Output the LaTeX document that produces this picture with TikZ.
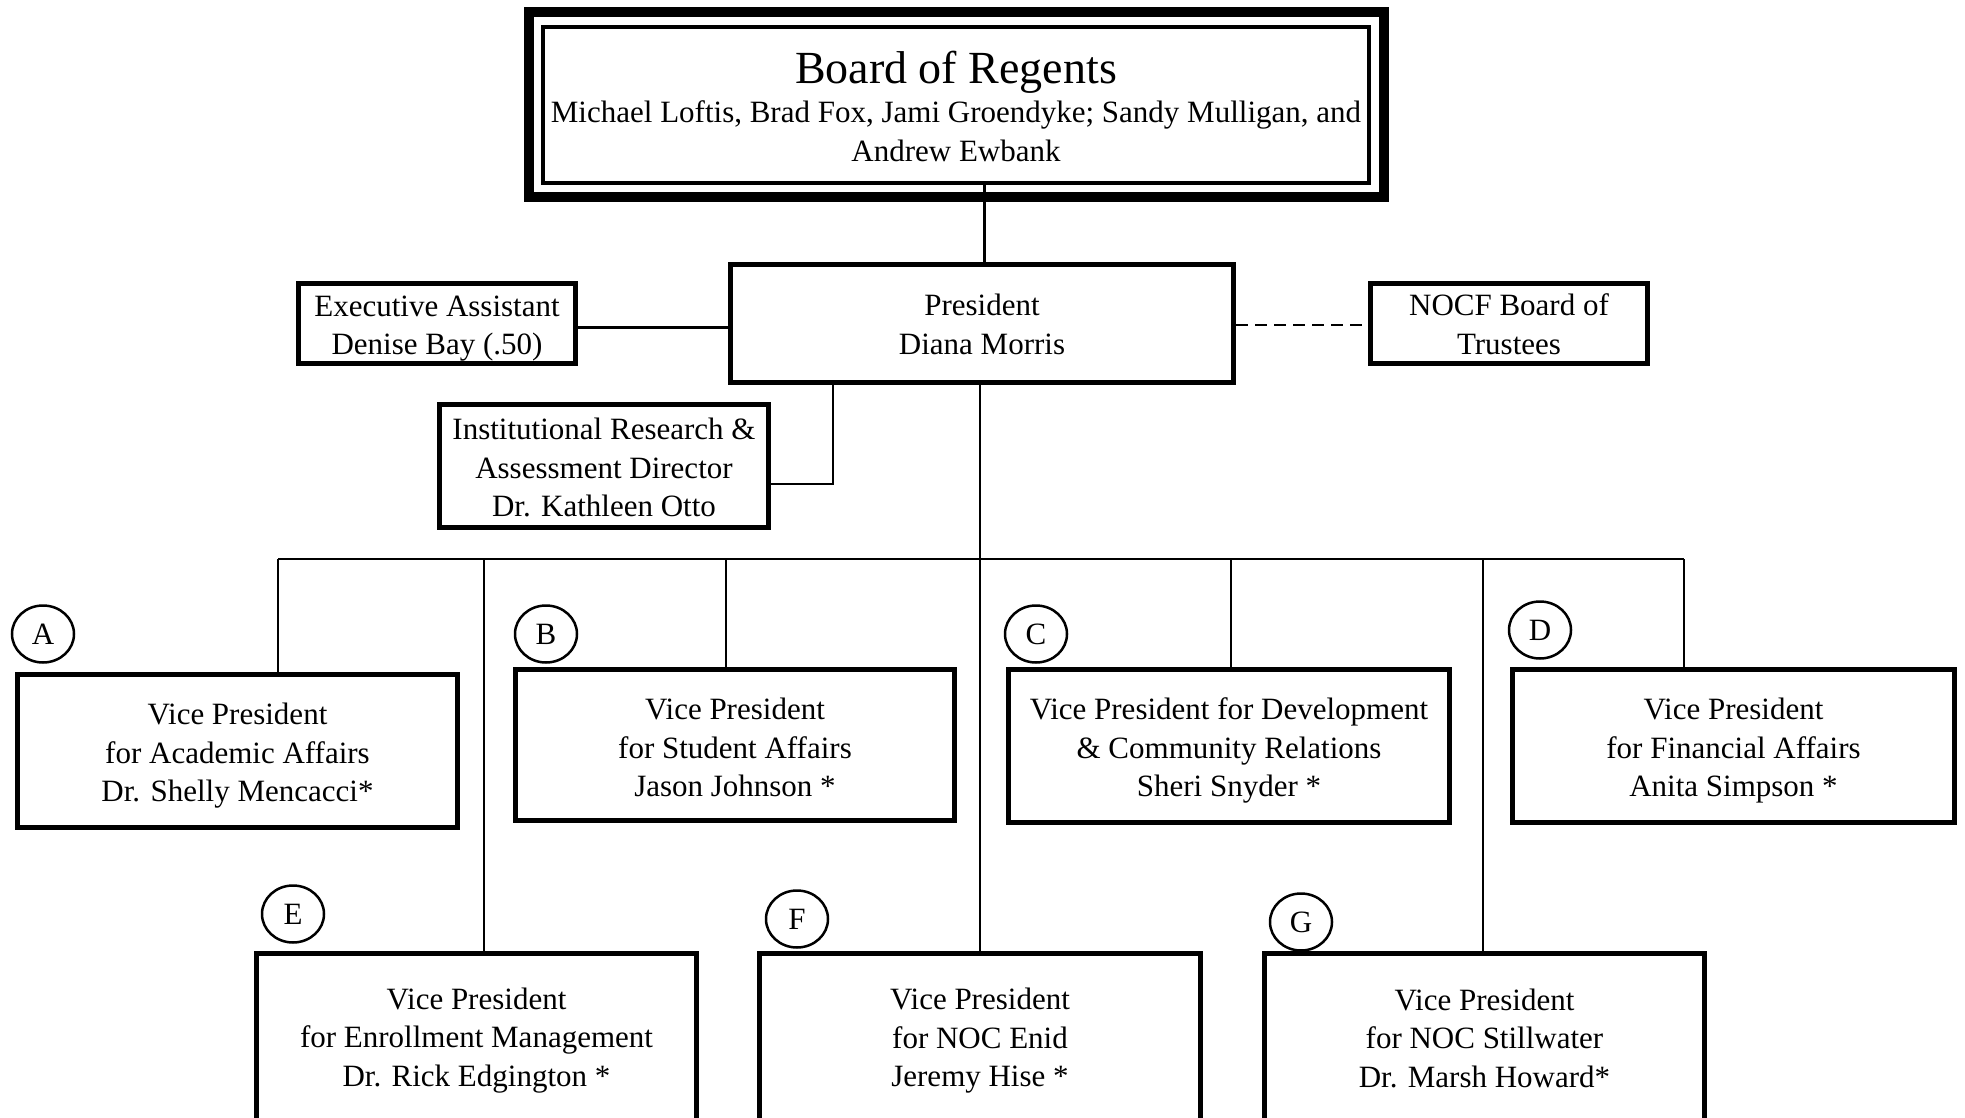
\documentclass[tikz,border=0pt]{standalone}
\usepackage{fontspec}
\setmainfont{Liberation Serif}
\usetikzlibrary{shapes.geometric}
\newcommand\lift[1]{\rule{0pt}{#1pt}}
\begin{document}
\begin{tikzpicture}[x=1pt,y=-1pt,
  box/.style={draw, line width=5pt, rectangle, inner sep=0pt, align=center, font=\fontsize{31}{38.5}\selectfont},
  conn/.style={line width=2.3pt},
  tag/.style={draw, ellipse, line width=2.5pt, minimum width=62pt, minimum height=57pt, inner sep=0pt, font=\fontsize{31}{36}\selectfont}]
\useasboundingbox (0,0) rectangle (1965,1118);
\clip (0,0) rectangle (1965,1118);
% board
\node[box, line width=4pt, minimum width=826pt, minimum height=156pt, font=\fontsize{31}{39}\selectfont] (board) at (956,105)
  {\lift{36}{\fontsize{46}{50}\selectfont Board of Regents}\\[0pt]Michael Loftis, Brad Fox, Jami Groendyke; Sandy Mulligan, and\\Andrew Ewbank};
\draw[line width=10pt] ([xshift=-12.5pt,yshift=12.5pt]board.north west) rectangle ([xshift=12.5pt,yshift=-12.5pt]board.south east);
% level 2
\node[box, minimum width=503pt, minimum height=118pt] (pres) at (982,323.5) {\lift{23}President\\Diana Morris};
\node[box, minimum width=277pt, minimum height=80pt] (exec) at (437,323.5) {\lift{31}Executive Assistant\\Denise Bay (.50)};
\node[box, minimum width=277pt, minimum height=80pt] (nocf) at (1509,323.5) {\lift{23}NOCF Board of\\Trustees};
\node[box, minimum width=329pt, minimum height=123pt] (ir) at (604,466) {\lift{25}Institutional Research \&\\Assessment Director\\Dr. Kathleen Otto};
% VPs
\node[box, minimum width=440pt, minimum height=153pt] (A) at (237.5,751) {\lift{31.5}Vice President\\for Academic Affairs\\Dr. Shelly Mencacci*};
\node[box, minimum width=439pt, minimum height=151pt] (B) at (735,745) {\lift{26.5}Vice President\\for Student Affairs\\Jason Johnson *};
\node[box, minimum width=441pt, minimum height=153pt] (C) at (1229,746) {\lift{31.5}Vice President for Development\\\& Community Relations\\Sheri Snyder *};
\node[box, minimum width=442pt, minimum height=153pt] (D) at (1733.5,746) {\lift{31.5}Vice President\\for Financial Affairs\\Anita Simpson *};
\node[box, minimum width=440pt, minimum height=170pt] (E) at (476.5,1038) {\lift{26.5}Vice President\\for Enrollment Management\\Dr. Rick Edgington *};
\node[box, minimum width=441pt, minimum height=170pt] (F) at (980,1038) {\lift{27}Vice President\\for NOC Enid\\Jeremy Hise *};
\node[box, minimum width=440pt, minimum height=170pt] (G) at (1484.5,1038) {Vice President\\for NOC Stillwater\\Dr. Marsh Howard*};
% tags
\node[tag] (tA) at (43,634) {A};
\node[tag] (tB) at (546,634) {B};
\node[tag] (tC) at (1036,634) {C};
\node[tag] (tD) at (1540,630) {D};
\node[tag] (tE) at (293,914) {E};
\node[tag] (tF) at (797,919) {F};
\node[tag] (tG) at (1301,922) {G};
% connectors
\draw[conn] ([xshift=2.5pt]pres.north) -- ([xshift=2.5pt]pres.north |- board.south);
\draw[conn] ([yshift=-4pt]exec.east) -- ([yshift=-4pt]exec.east -| pres.west);
\draw[conn, dash pattern=on 12pt off 7pt] ([yshift=-1.5pt]pres.east) -- ([yshift=-1.5pt]pres.east -| nocf.west);
\coordinate (irj) at (833,484);
\draw[conn] (irj |- pres.south) -- (irj) -- (irj -| ir.east);
\draw[conn] (F.north |- pres.south) -- (F.north);
\coordinate (jA) at (278,559);
\coordinate (jE) at (484,559);
\coordinate (jB) at (726,559);
\coordinate (jC) at (1231,559);
\coordinate (jG) at (1483,559);
\coordinate (jD) at (1684,559);
\draw[conn] (jA) -- (jD);
\draw[conn] (jA) -- (jA |- A.north);
\draw[conn] (jE) -- (jE |- E.north);
\draw[conn] (jB) -- (jB |- B.north);
\draw[conn] (jC) -- (jC |- C.north);
\draw[conn] (jG) -- (jG |- G.north);
\draw[conn] (jD) -- (jD |- D.north);
\end{tikzpicture}
\end{document}
